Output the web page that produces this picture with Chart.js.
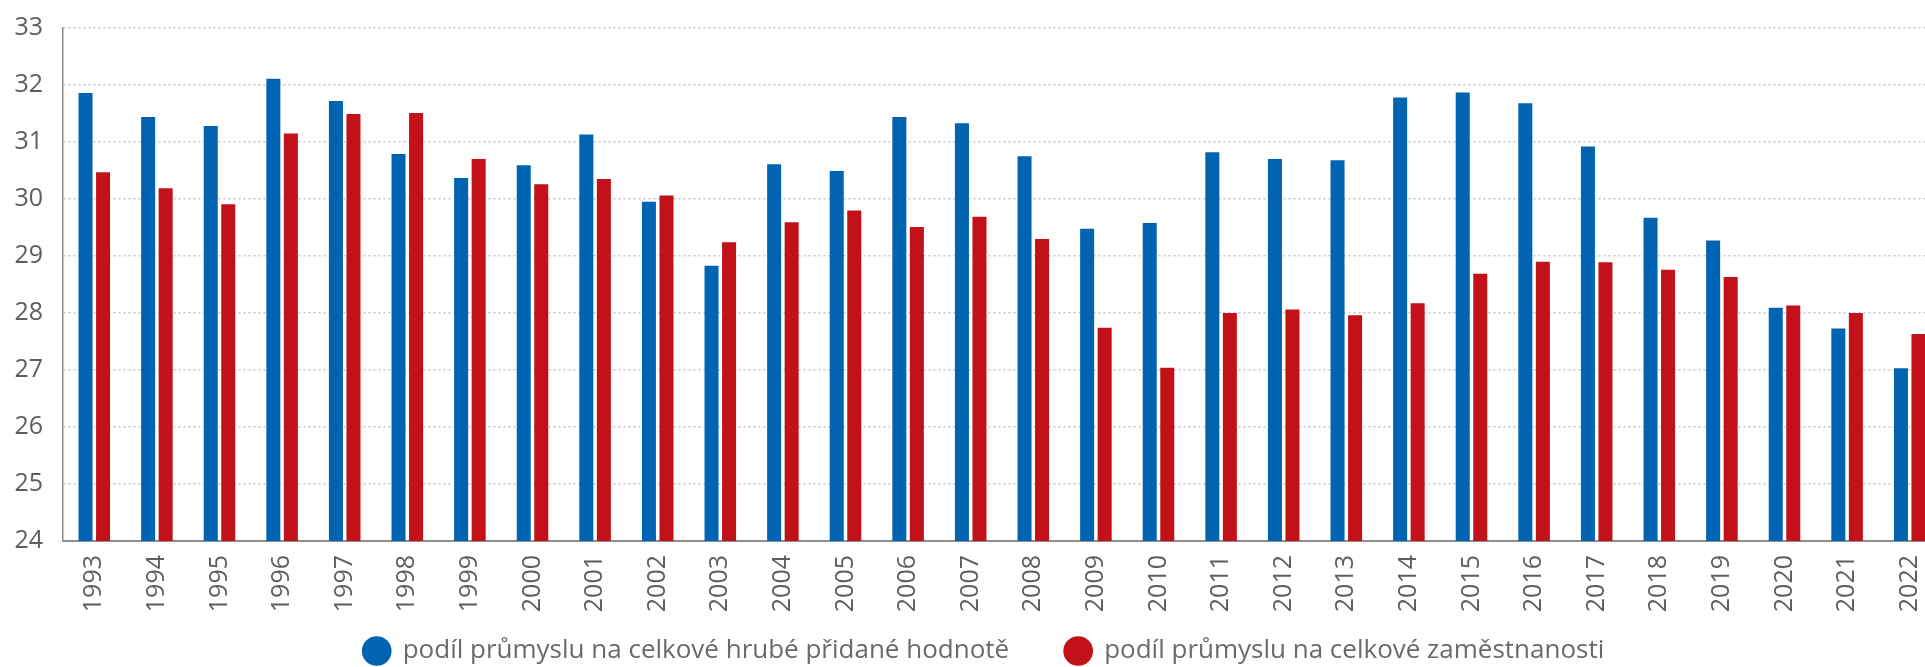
<!DOCTYPE html>
<html lang="cs">
<head>
<meta charset="utf-8">
<title>Podíl průmyslu</title>
<script src="https://cdn.jsdelivr.net/npm/chart.js@4.4.1/dist/chart.umd.min.js"></script>
<style>
  html, body { margin: 0; padding: 0; background: #fff; overflow: hidden; }
  .chart-container { position: relative; width: 1945px; height: 667px; }
</style>
</head>
<body>
<div class="chart-container">
  <canvas id="chart"></canvas>
</div>
<script>
const years = ['1993', '1994', '1995', '1996', '1997', '1998', '1999', '2000', '2001', '2002',
  '2003', '2004', '2005', '2006', '2007', '2008', '2009', '2010', '2011', '2012',
  '2013', '2014', '2015', '2016', '2017', '2018', '2019', '2020', '2021', '2022'];

// podíl průmyslu na celkové hrubé přidané hodnotě
const shareGva = [31.86, 31.44, 31.28, 32.11, 31.72, 30.79, 30.37, 30.59, 31.13, 29.95,
  28.83, 30.61, 30.49, 31.44, 31.33, 30.75, 29.48, 29.58, 30.82, 30.70,
  30.68, 31.78, 31.87, 31.68, 30.92, 29.67, 29.27, 28.09, 27.73, 27.03];

// podíl průmyslu na celkové zaměstnanosti
const shareEmployment = [30.47, 30.19, 29.91, 31.15, 31.49, 31.51, 30.70, 30.26, 30.35, 30.06,
  29.24, 29.59, 29.80, 29.51, 29.69, 29.30, 27.74, 27.04, 28.00, 28.06,
  27.96, 28.17, 28.69, 28.90, 28.89, 28.76, 28.63, 28.13, 28.00, 27.63];

const yMin = 24;
const yMax = 33;

// tick labels hang outside their axis boxes (legend below, padding left), so widen the clip
const unclipLabels = {
  id: 'unclipLabels',
  afterLayout(chart) {
    chart.scales.x.bottom = chart.height;
    chart.scales.y.left = 0;
  },
};

const ctx = document.getElementById('chart').getContext('2d');
new Chart(ctx, {
  type: 'bar',
  data: {
    labels: years,
    datasets: [
      {
        label: 'podíl průmyslu na celkové hrubé přidané hodnotě',
        data: shareGva,
        backgroundColor: '#0064b2',
        borderWidth: 0,
      },
      {
        label: 'podíl průmyslu na celkové zaměstnanosti',
        data: shareEmployment,
        backgroundColor: '#c3111a',
        borderWidth: 0,
      },
    ],
  },
  plugins: [unclipLabels],
  options: {
    responsive: true,
    maintainAspectRatio: false,
    animation: false,
    devicePixelRatio: 1,
    categoryPercentage: 0.56,
    barPercentage: 0.8,
    layout: {
      padding: { top: 28, left: 27, right: 4, bottom: -7 },
    },
    plugins: {
      tooltip: { enabled: false },
      legend: {
        position: 'bottom',
        labels: {
          usePointStyle: true,
          pointStyle: 'circle',
          boxHeight: 21,
          padding: 56,
          color: '#6a6a6a',
          font: { family: 'Open Sans', size: 26 },
        },
      },
    },
    scales: {
      x: {
        grid: { display: false, drawTicks: false },
        border: { display: true, color: '#8e8e8e', width: 2 },
        ticks: {
          minRotation: 90,
          maxRotation: 90,
          padding: 14,
          color: '#5e5e5e',
          font: { family: 'Open Sans', size: 25 },
        },
        afterFit: (scale) => {
          scale.height = 41;
          scale.paddingLeft = 0;
          scale.paddingRight = 0;
        },
      },
      y: {
        min: yMin,
        max: yMax,
        grid: {
          drawTicks: false,
          lineWidth: 1.5,
          color: (c) => (c.tick && c.tick.value === yMin ? 'rgba(0,0,0,0)' : '#c4c4c4'),
        },
        border: { display: true, color: '#8e8e8e', width: 1.5, dash: [2, 3] },
        ticks: {
          stepSize: 1,
          padding: 20,
          color: '#5e5e5e',
          font: { family: 'Open Sans', size: 25 },
        },
        afterFit: (scale) => {
          scale.width = 36;
          scale.paddingTop = 0;
          scale.paddingBottom = 0;
        },
      },
    },
  },
});
</script>
</body>
</html>
